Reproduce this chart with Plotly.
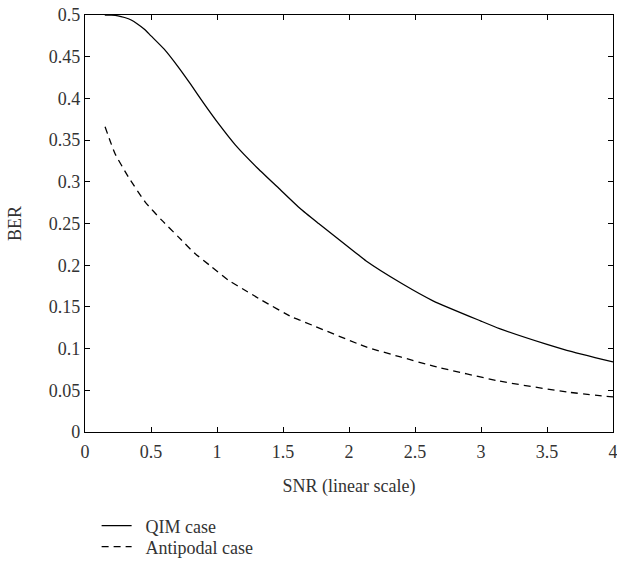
import plotly.graph_objects as go

# QIM case (solid)
qim_snr = [0.15, 0.2, 0.25, 0.3, 0.35, 0.4, 0.45, 0.5, 0.6, 0.7, 0.8, 0.9, 1.01, 1.14, 1.31,
           1.47, 1.63, 1.77, 2.05, 2.13, 2.4, 2.64, 3.0, 3.14, 3.5, 3.65, 4.0]
qim_ber = [0.500, 0.4998, 0.499, 0.497, 0.494, 0.489, 0.483, 0.475, 0.459, 0.439, 0.417, 0.394,
           0.370, 0.344, 0.316, 0.292, 0.268, 0.250, 0.215, 0.205, 0.178, 0.157, 0.133, 0.124,
           0.105, 0.098, 0.084]

# Antipodal case (dashed)
anti_snr = [0.152, 0.227, 0.328, 0.455, 0.581, 0.707, 0.833, 0.96, 1.086, 1.212, 1.339,
            1.566, 1.63, 2.13, 2.39, 2.64, 3.14, 3.65, 4.0]
anti_ber = [0.366, 0.334, 0.306, 0.276, 0.254, 0.234, 0.214, 0.198, 0.182, 0.170, 0.158,
            0.138, 0.134, 0.102, 0.090, 0.079, 0.061, 0.048, 0.042]

x_ticks = [0, 0.5, 1, 1.5, 2, 2.5, 3, 3.5, 4]
y_ticks = [0, 0.05, 0.1, 0.15, 0.2, 0.25, 0.3, 0.35, 0.4, 0.45, 0.5]

FONT = "Liberation Serif"
NB = "\u00a0\u00a0"

fig = go.Figure()
fig.add_trace(go.Scatter(x=qim_snr, y=qim_ber, mode="lines", name=NB + "QIM case", legend="legend",
                         line=dict(color="black", width=1.3, shape="spline", smoothing=0.5)))
fig.add_trace(go.Scatter(x=anti_snr, y=anti_ber, mode="lines", name=NB + "Antipodal case", legend="legend2",
                         line=dict(color="black", width=1.3, dash="7px,5px", shape="spline", smoothing=0.5)))

axis_common = dict(showline=True, linecolor="black", linewidth=1.3, mirror="ticks",
                   ticks="inside", ticklen=5, tickcolor="black", tickwidth=1,
                   showgrid=False, zeroline=False, automargin=False,
                   ticklabeloverflow="allow",
                   tickfont=dict(family=FONT, size=18, color="#333"))

fig.update_xaxes(range=[0, 4], tickvals=x_ticks, ticklabelstandoff=3,
                 title=dict(text="SNR (linear scale)", standoff=18,
                            font=dict(family=FONT, size=18, color="#333")),
                 **axis_common)
fig.update_yaxes(range=[0, 0.5], tickvals=y_ticks,
                 title=dict(text="BER", standoff=22,
                            font=dict(family=FONT, size=18, color="#333")),
                 **axis_common)

leg = dict(xanchor="left", yanchor="middle", bgcolor="rgba(0,0,0,0)",
           font=dict(family=FONT, size=18, color="#333"), itemwidth=30)

fig.update_layout(
    width=617, height=580,
    margin=dict(l=85, r=4, t=15, b=148),
    plot_bgcolor="white", paper_bgcolor="white",
    font=dict(family=FONT, size=18, color="#333"),
    showlegend=True,
    legend=dict(x=0.022, y=-0.2254, **leg),
    legend2=dict(x=0.022, y=-0.2758, **leg),
)

fig.write_html(
    "out.html",
    config={"displayModeBar": False},
    post_script="document.body.style.margin='0';document.body.style.overflow='hidden';"
                "document.documentElement.style.overflow='hidden';",
)
